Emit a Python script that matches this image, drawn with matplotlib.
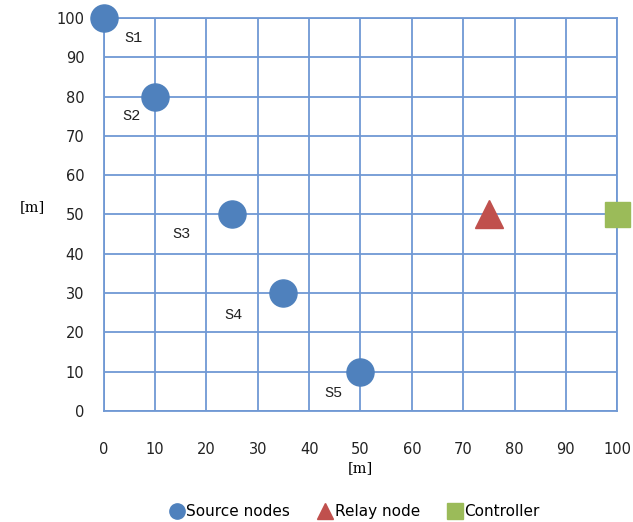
import matplotlib.pyplot as plt
from matplotlib.lines import Line2D

# node positions [m]
src_x = [0, 10, 25, 35, 50]
src_y = [100, 80, 50, 30, 10]
src_names = ["S1", "S2", "S3", "S4", "S5"]
# label positions next to each source
lab_x = [5.7, 5.3, 15.2, 25.2, 44.7]
lab_y = [95, 75, 45, 24.5, 4.5]

relay_x = [75]
relay_y = [50]
ctrl_x = [100]
ctrl_y = [50]

ticks = list(range(0, 101, 10))

blue = "#4f81bd"
red = "#c0504d"
green = "#9bbb59"
gridc = "#7099d4"

fig = plt.figure(figsize=(6.33, 5.22), dpi=100)
ax = fig.add_axes([0.164, 0.2126, 0.811, 0.753])

ax.set_xlim(0, 100)
ax.set_ylim(0, 100)
ax.set_xticks(ticks)
ax.set_yticks(ticks)
ax.grid(True, color=gridc, linewidth=1.3)
ax.set_axisbelow(True)
for s in ax.spines.values():
    s.set_color(gridc)
    s.set_linewidth(1.3)
ax.tick_params(length=0, labelsize=10.5, colors="#222222")
ax.tick_params(axis="x", pad=22)
ax.tick_params(axis="y", pad=14)

ax.plot(src_x, src_y, "o", color=blue, markersize=19.5, clip_on=False, zorder=3)
ax.plot(relay_x, relay_y, "^", color=red, markersize=19.5, clip_on=False, zorder=3)
ax.plot(ctrl_x, ctrl_y, "s", color=green, markersize=18, clip_on=False, zorder=3)

for i in range(len(src_names)):
    ax.text(lab_x[i], lab_y[i], src_names[i],
            family=["Liberation Mono", "DejaVu Sans Mono"],
            fontsize=11, ha="center", va="center", color="#222222")

ax.set_xlabel("[m]", family="DejaVu Serif", fontsize=10.5)
ax.xaxis.set_label_coords(0.5, -0.128)
ax.set_ylabel("[m]", family="DejaVu Serif", fontsize=10.5, rotation=0)
ax.yaxis.set_label_coords(-0.14, 0.5)

handles = [
    Line2D([], [], marker="o", linestyle="", color=blue, markersize=11, label="Source nodes"),
    Line2D([], [], marker="^", linestyle="", color=red, markersize=11, label="Relay node"),
    Line2D([], [], marker="s", linestyle="", color=green, markersize=11, label="Controller"),
]
fig.legend(handles=handles, loc="center", bbox_to_anchor=(0.56, 0.02), ncol=3,
           frameon=False, fontsize=11, handletextpad=0.1, columnspacing=1.8,
           handlelength=1.0)

fig.savefig("out.png", dpi=100)
